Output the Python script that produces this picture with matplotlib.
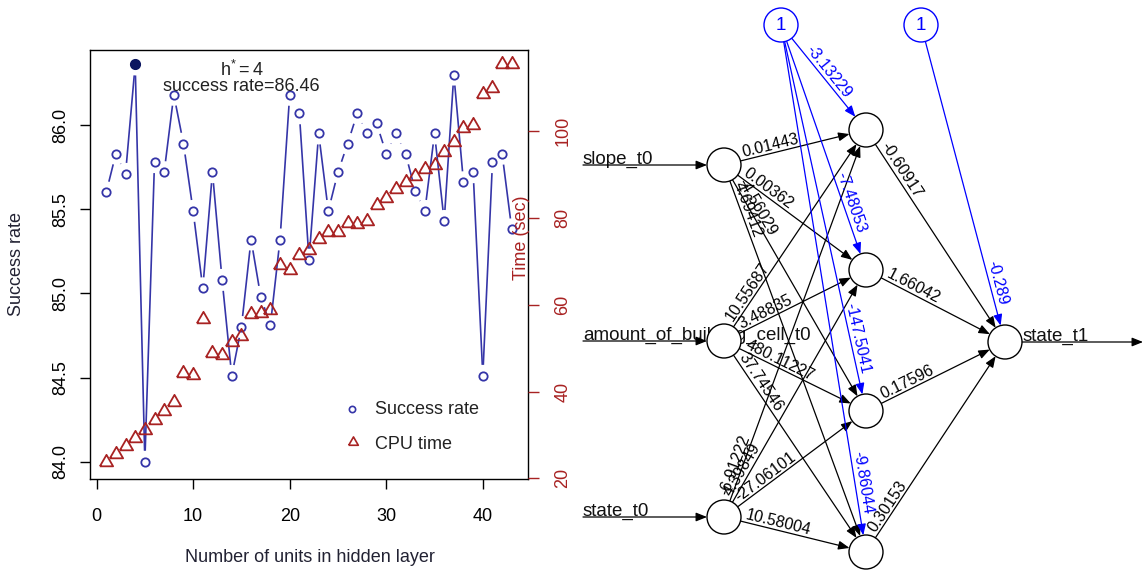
import numpy as np
import matplotlib
matplotlib.use("Agg")
import matplotlib.pyplot as plt
from matplotlib.collections import LineCollection
from matplotlib.patches import Circle

plt.rcParams['font.family'] = ['Liberation Sans', 'DejaVu Sans']
plt.rcParams['mathtext.fontset'] = 'custom'
plt.rcParams['mathtext.rm'] = 'Liberation Sans'
plt.rcParams['mathtext.it'] = 'Liberation Sans'

# ---- left panel data ----
units = np.arange(1, 44)
success_rate = [85.60, 85.83, 85.71, 86.36, 84.00, 85.78, 85.72, 86.18, 85.89, 85.49,
                85.03, 85.72, 85.08, 84.51, 84.80, 85.32, 84.98, 84.81, 85.32, 86.18,
                86.07, 85.20, 85.95, 85.49, 85.72, 85.89, 86.07, 85.95, 86.01, 85.83,
                85.95, 85.83, 85.61, 85.49, 85.95, 85.43, 86.30, 85.66, 85.72, 84.51,
                85.78, 85.83, 85.38]
cpu_time = [23.8, 25.6, 27.4, 29.3, 31.1, 33.4, 35.5, 37.6, 44.3, 43.8,
            56.7, 48.9, 48.4, 51.4, 52.8, 57.9, 58.1, 58.8, 69.2, 68.0,
            71.4, 72.6, 75.1, 76.7, 76.7, 78.8, 78.5, 79.4, 83.0, 84.7,
            86.6, 88.3, 89.7, 91.3, 92.2, 95.3, 97.6, 100.8, 101.5, 108.5,
            109.9, 115.4, 115.4]
best_h = 4
best_rate_label = "86.46"
x_ticks = [0, 10, 20, 30, 40]
y_ticks = [84.0, 84.5, 85.0, 85.5, 86.0]
time_ticks = [20, 40, 60, 80, 100]

# ---- right panel data (neural network weights) ----
input_names = ["slope_t0", "amount_of_building_cell_t0", "state_t0"]
output_name = "state_t1"
w_in_hidden = [[0.01443, 0.00362, -4.56029, 4.69412],
               [10.55687, 3.48835, 480.11227, 37.74546],
               [-6.91222, 4.39849, -27.06101, 10.58004]]
w_bias_hidden = [-3.13229, -7.48053, -147.5041, -9.86044]
w_hidden_out = [-0.60917, 1.66042, 0.17596, 0.30153]
w_bias_out = [-0.289]

BLUE = '#3535a8'
NAVY = '#0b1660'
RED = '#a82222'
W, H = 1146, 574

fig = plt.figure(figsize=(W / 100, H / 100), dpi=100)

# ================= left: success rate / cpu time =================
ax1 = fig.add_axes([90 / W, 1 - 479 / H, 438 / W, 429 / H])
ax1.set_xlim(-0.68, 44.68)
ax1.set_ylim(83.897, 86.446)
ax1.set_xticks(x_ticks)
ax1.set_yticks(y_ticks)
ax1.set_yticklabels([f"{v:.1f}" for v in y_ticks])
ax1.tick_params(axis='x', length=7, width=1, labelsize=13, pad=14)
ax1.tick_params(axis='y', length=7, width=1, labelsize=13, pad=8, labelrotation=90)
for lab in ax1.get_yticklabels():
    lab.set_va('center')
for s in ax1.spines.values():
    s.set_linewidth(1.0)

# type="b" style line: segments with gaps around the points
def gapped_segments(ax, xs, ys, gap):
    pts = ax.transData.transform(np.column_stack([xs, ys]))
    inv = ax.transData.inverted()
    segs = []
    for p, q in zip(pts[:-1], pts[1:]):
        d = q - p
        n = np.hypot(d[0], d[1])
        if n <= 2 * gap:
            continue
        u = d / n
        segs.append([inv.transform(p + u * gap), inv.transform(q - u * gap)])
    return segs

segs = gapped_segments(ax1, units, success_rate, 11)
ax1.add_collection(LineCollection(segs, colors=BLUE, linewidths=1.2))
ax1.plot(units, success_rate, ls='none', marker='o', ms=6, mfc='none',
         mec=BLUE, mew=1.3)
ax1.plot([best_h], [success_rate[best_h - 1]], ls='none', marker='o', ms=7,
         mfc=NAVY, mec=NAVY)
ax1.text(15, 86.292, r'$\mathrm{h}^{*}\mathrm{=4}$', ha='center', va='baseline',
         fontsize=13, color='#222222')
ax1.text(15, 86.202, "success rate=" + best_rate_label, ha='center', va='baseline',
         fontsize=13, color='#222222')

ax2 = ax1.twinx()
ax2.set_ylim(19.84, 118.7)
ax2.set_yticks(time_ticks)
ax2.tick_params(axis='y', colors=RED, length=8, width=1, labelsize=13, pad=11,
                labelrotation=90)
for lab in ax2.get_yticklabels():
    lab.set_va('center')
for s in ax2.spines.values():
    s.set_visible(False)
tri = [(-1, -0.577), (1, -0.577), (0, 1.155), (-1, -0.577)]
ax2.plot(units, cpu_time, ls='none', marker=tri, ms=11, mfc='none', mec=RED, mew=1.3)

# legend
ax1.plot([0.598], [0.163], transform=ax1.transAxes, marker='o', ms=4.5, mfc='none',
         mec=BLUE, mew=1.2, ls='none')
ax1.plot([0.600], [0.086], transform=ax1.transAxes, marker=tri, ms=8, mfc='none',
         mec=RED, mew=1.2, ls='none')
ax1.text(0.651, 0.163, "Success rate", transform=ax1.transAxes, fontsize=13,
         va='center', color='#222222')
ax1.text(0.651, 0.080, "CPU time", transform=ax1.transAxes, fontsize=13,
         va='center', color='#222222')

fig.text(17 / W, 1 - 264 / H, "Success rate", rotation=90, ha='center', va='center',
         fontsize=13, color='#222233')
fig.text(310 / W, 1 - 557 / H, "Number of units in hidden layer", ha='center',
         va='center', fontsize=13, color='#222233')
fig.text(521 / W, 1 - 238 / H, "Time (sec)", rotation=90, ha='center', va='center',
         fontsize=13, color=RED)

# ================= right: network diagram =================
ax3 = fig.add_axes([570 / W, 0, 576 / W, 1])
ax3.set_xlim(570, 1146)
ax3.set_ylim(574, 0)
ax3.axis('off')

layer_x = [724, 866, 1005]
input_y = [165, 341, 517]
hidden_y = [130, 270, 411, 552]
output_y = [342]
bias_xy = [(781, 25), (921, 25)]
R = 17
inputs = [(layer_x[0], y) for y in input_y]
hidden = [(layer_x[1], y) for y in hidden_y]
outputs = [(layer_x[2], y) for y in output_y]

def arrow(p, q, color):
    ax3.annotate('', xy=q, xytext=p, zorder=2,
                 arrowprops=dict(arrowstyle='-|>,head_length=0.55,head_width=0.22',
                                 color=color, lw=0.9, mutation_scale=12,
                                 shrinkA=0, shrinkB=0))

def edge(p, q, w, color, bias=False):
    p = np.array(p, float)
    q = np.array(q, float)
    d = q - p
    n = np.hypot(d[0], d[1])
    u = d / n
    arrow(p + u * R, q - u * R, color)
    ang = np.degrees(np.arctan2(-d[1], d[0]))
    if bias:
        a = q - u * 37
        ha = 'right'
    else:
        a = p + u * 21
        ha = 'left'
    ax3.text(a[0], a[1], str(w), rotation=ang, rotation_mode='anchor', ha=ha,
             va='bottom', fontsize=11.5, color=color, zorder=4)

for i, p in enumerate(inputs):
    for j, q in enumerate(hidden):
        edge(p, q, w_in_hidden[i][j], 'black')
for j, q in enumerate(hidden):
    edge(bias_xy[0], q, w_bias_hidden[j], 'blue', bias=True)
    edge(q, outputs[0], w_hidden_out[j], 'black')
edge(bias_xy[1], outputs[0], w_bias_out[0], 'blue', bias=True)

for name, (x, y) in zip(input_names, inputs):
    arrow((583, y), (x - R, y), 'black')
    ax3.text(583, y - 1.5, name, fontsize=13.5, va='baseline', ha='left',
             color='#111111', zorder=1)
ox, oy = outputs[0]
arrow((ox + R, oy), (1143, oy), 'black')
ax3.text(1023, oy - 1.5, output_name, fontsize=13.5, va='baseline', ha='left',
         color='#111111', zorder=1)

for (x, y) in inputs + hidden + outputs:
    ax3.add_patch(Circle((x, y), R, fc='white', ec='black', lw=1, zorder=3))
for (x, y) in bias_xy:
    ax3.add_patch(Circle((x, y), R, fc='white', ec='blue', lw=1, zorder=3))
    ax3.text(x, y, "1", ha='center', va='center', fontsize=13.5, color='blue',
             zorder=4)

fig.savefig("out.png", dpi=100)
